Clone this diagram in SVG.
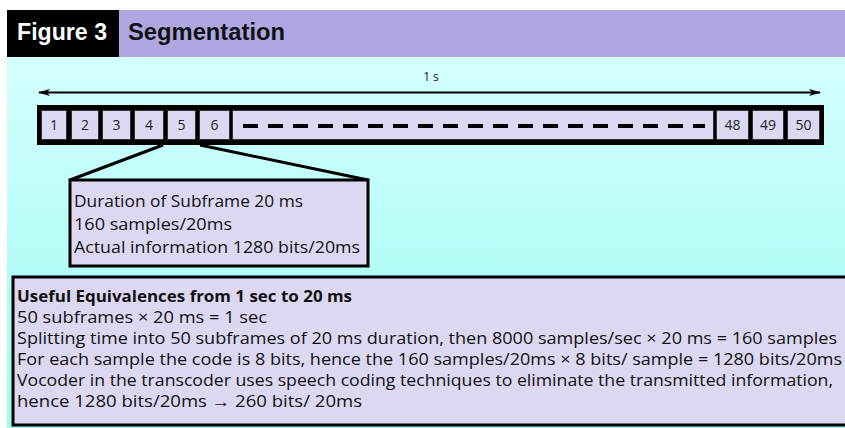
<svg xmlns="http://www.w3.org/2000/svg" width="845" height="428" viewBox="0 0 845 428">
  <defs>
    <linearGradient id="bg" x1="0" y1="0" x2="0" y2="1">
      <stop offset="0" stop-color="#d4fefe"/>
      <stop offset="1" stop-color="#9cfcf0"/>
    </linearGradient>
    <marker id="ah" viewBox="0 0 12 8" refX="11" refY="4" markerWidth="12" markerHeight="8" markerUnits="userSpaceOnUse" orient="auto-start-reverse">
      <path d="M0,0.5 L12,4 L0,7.5 L3,4 Z" fill="#000"/>
    </marker>
    <style>
      .cell { fill: #dcd8f2; stroke: #333; stroke-width: 1; }
      .num { font-family: "Open Sans", "Liberation Sans", sans-serif; font-size: 14px; fill: #222; text-anchor: middle; }
      .txt { font-family: "Open Sans", "Liberation Sans", sans-serif; font-size: 16px; fill: #111; }
      .box { fill: #dcd8f2; stroke: #000; stroke-width: 3; }
      .conn { stroke: #000; stroke-width: 3; fill: none; }
    </style>
  </defs>

  <rect x="0" y="0" width="845" height="428" fill="#ffffff"/>
  <rect x="7" y="57" width="838" height="371" fill="url(#bg)"/>

  <g id="header">
    <rect x="7" y="10" width="112" height="47" fill="#000"/>
    <rect x="119" y="10" width="726" height="47" fill="#aea7e2"/>
    <text x="17" y="40" font-family="Liberation Sans, sans-serif" font-weight="bold" font-size="23" fill="#fff" textLength="90" lengthAdjust="spacingAndGlyphs">Figure 3</text>
    <text x="128" y="40" font-family="Liberation Sans, sans-serif" font-weight="bold" font-size="23" fill="#111" textLength="157" lengthAdjust="spacingAndGlyphs">Segmentation</text>
  </g>

  <g id="timeline-label">
    <text x="431" y="81" font-family="Open Sans, Liberation Sans, sans-serif" font-size="12" fill="#222" text-anchor="middle">1 s</text>
  </g>

  <g id="frame">
    <rect x="37" y="105" width="787" height="40" fill="#000"/>
    <g id="cell-1"><rect class="cell" x="41.5" y="110.5" width="25" height="29"/><text class="num" x="54" y="130">1</text></g>
    <g id="cell-2"><rect class="cell" x="71.5" y="110.5" width="27" height="29"/><text class="num" x="85" y="130">2</text></g>
    <g id="cell-3"><rect class="cell" x="102.5" y="110.5" width="28" height="29"/><text class="num" x="116.5" y="130">3</text></g>
    <g id="cell-4"><rect class="cell" x="134.5" y="110.5" width="29" height="29"/><text class="num" x="149" y="130">4</text></g>
    <g id="cell-5"><rect class="cell" x="167.5" y="110.5" width="28" height="29"/><text class="num" x="181.5" y="130">5</text></g>
    <g id="cell-6"><rect class="cell" x="199.5" y="110.5" width="30" height="29"/><text class="num" x="214.5" y="130">6</text></g>
    <g id="cell-dots"><rect class="cell" x="232.5" y="110.5" width="481" height="29"/>
      <line x1="243" y1="126" x2="705" y2="126" stroke="#000" stroke-width="4" stroke-dasharray="15 10"/></g>
    <g id="cell-48"><rect class="cell" x="716.5" y="110.5" width="32" height="29"/><text class="num" x="732.5" y="130">48</text></g>
    <g id="cell-49"><rect class="cell" x="752.5" y="110.5" width="31" height="29"/><text class="num" x="768" y="130">49</text></g>
    <g id="cell-50"><rect class="cell" x="787.5" y="110.5" width="32" height="29"/><text class="num" x="803.5" y="130">50</text></g>
  </g>

  <g id="connectors">
    <line x1="39" y1="92.5" x2="820" y2="92.5" stroke="#000" stroke-width="2" marker-start="url(#ah)" marker-end="url(#ah)"/>
    <line class="conn" x1="163" y1="145" x2="70" y2="180"/>
    <line class="conn" x1="200" y1="145" x2="368" y2="180"/>
  </g>

  <g id="subframe-box">
    <rect class="box" x="70" y="180" width="298" height="86"/>
    <text class="txt" x="74" y="207" font-size="17" textLength="229" lengthAdjust="spacingAndGlyphs">Duration of Subframe 20 ms</text>
    <text class="txt" x="74" y="230" font-size="17" textLength="158" lengthAdjust="spacingAndGlyphs">160 samples/20ms</text>
    <text class="txt" x="74" y="253" font-size="17" textLength="286" lengthAdjust="spacingAndGlyphs">Actual information 1280 bits/20ms</text>
  </g>

  <g id="equivalences-box">
    <rect class="box" x="13" y="277" width="840" height="148"/>
    <text class="txt" x="17" y="302" font-weight="bold" textLength="335" lengthAdjust="spacingAndGlyphs">Useful Equivalences from 1 sec to 20 ms</text>
    <text class="txt" x="17" y="323" textLength="250" lengthAdjust="spacingAndGlyphs">50 subframes × 20 ms = 1 sec</text>
    <text class="txt" x="17" y="344" textLength="820" lengthAdjust="spacingAndGlyphs">Splitting time into 50 subframes of 20 ms duration, then 8000 samples/sec × 20 ms = 160 samples</text>
    <text class="txt" x="17" y="365" textLength="825" lengthAdjust="spacingAndGlyphs">For each sample the code is 8 bits, hence the 160 samples/20ms × 8 bits/ sample = 1280 bits/20ms</text>
    <text class="txt" x="17" y="386" textLength="816" lengthAdjust="spacingAndGlyphs">Vocoder in the transcoder uses speech coding techniques to eliminate the transmitted information,</text>
    <text class="txt" x="17" y="407" textLength="345" lengthAdjust="spacingAndGlyphs">hence 1280 bits/20ms → 260 bits/ 20ms</text>
  </g>
</svg>
